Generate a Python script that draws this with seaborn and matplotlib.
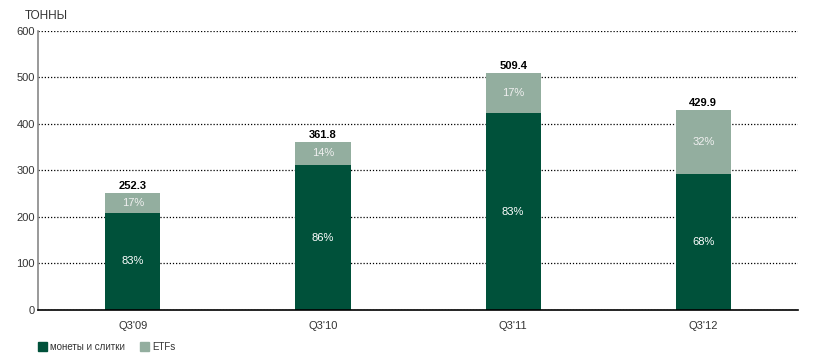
import matplotlib
matplotlib.use('Agg')
import matplotlib.pyplot as plt
import seaborn as sns
import pandas as pd
from matplotlib.patches import Patch

quarters = ["Q3'09", "Q3'10", "Q3'11", "Q3'12"]
totals = [252.3, 361.8, 509.4, 429.9]
coins_pct = [83, 86, 83, 68]
etf_pct = [17, 14, 17, 32]
coins = [209.4, 311.1, 422.8, 292.3]
etfs = [42.9, 50.7, 86.6, 137.6]

dark = '#00513A'
light = '#93AE9F'

sns.set_style('white')
plt.rcParams['font.family'] = ['Arial', 'Liberation Sans', 'DejaVu Sans']

df = pd.DataFrame({'quarter': quarters, 'coins': coins, 'etfs': etfs, 'total': totals})

fig = plt.figure(figsize=(8.23, 3.63), dpi=100)
ax = fig.add_axes([0.046, 0.146, 0.924, 0.769])

w = 0.29
sns.barplot(data=df, x='quarter', y='total', color=light, width=w, saturation=1, linewidth=0, ax=ax)
sns.barplot(data=df, x='quarter', y='coins', color=dark, width=w, saturation=1, linewidth=0, ax=ax)

for i in range(len(quarters)):
    ax.text(i, coins[i] / 2, f'{coins_pct[i]}%', ha='center', va='center', color='white', fontsize=8)
    ax.text(i, coins[i] + etfs[i] / 2, f'{etf_pct[i]}%', ha='center', va='center', color='#f0f0f0', fontsize=8)
    ax.text(i, totals[i] + 4, f'{totals[i]:.1f}', ha='center', va='bottom', color='black', fontsize=8, fontweight='bold')

ax.set_xlim(-0.5, 3.5)
ax.set_ylim(0, 600)
ax.set_yticks(range(0, 601, 100))
ax.yaxis.grid(True, linestyle=(0, (1, 1.5)), color='black', linewidth=0.9)
ax.set_axisbelow(True)

ax.set_xticks([-0.5, 0.5, 1.5, 2.5, 3.5])
ax.set_xticklabels([])
ax.set_xticks(range(4), minor=True)
ax.set_xticklabels(quarters, minor=True)
ax.tick_params(axis='x', which='major', length=5, direction='out', color='black', width=1)
ax.tick_params(axis='x', which='minor', length=0, pad=8, labelsize=8, labelcolor='#333333')
ax.tick_params(axis='y', length=0, labelsize=8, labelcolor='#333333', pad=2)
ax.set_xlabel('')
ax.set_ylabel('')

for s in ['top', 'right']:
    ax.spines[s].set_visible(False)
ax.spines['left'].set_color('#888888')
ax.spines['left'].set_linewidth(1.2)
ax.spines['bottom'].set_color('black')
ax.spines['bottom'].set_linewidth(1.2)

fig.text(0.03, 0.955, 'ТОННЫ', fontsize=8.5, color='#333333', ha='left', va='center')

handles = [Patch(color=dark, label='монеты и слитки'), Patch(color=light, label='ETFs')]
fig.legend(handles=handles, loc='center left', bbox_to_anchor=(0.035, 0.045), ncol=2, frameon=False,
           fontsize=7, handlelength=1.0, handleheight=1.0, handletextpad=0.3, columnspacing=1.5,
           labelcolor='#333333')

fig.savefig('out.png', dpi=100)
